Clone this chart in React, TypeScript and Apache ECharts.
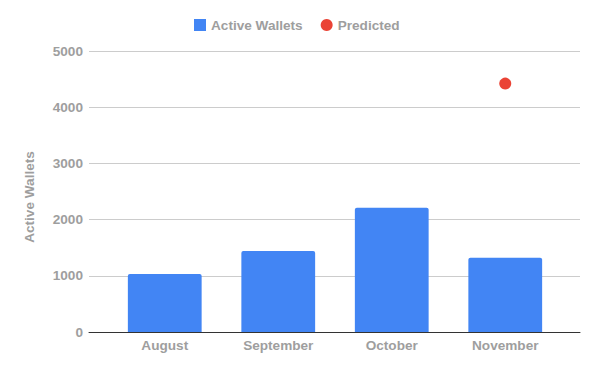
import React, { useEffect, useRef } from "react";
import * as echarts from "echarts";

const categories = ["August", "September", "October", "November"];
const activeWallets = [1030, 1440, 2210, 1320];
const predicted: (number | null)[] = [null, null, null, 4420];
const yTicks = { min: 0, max: 5000, interval: 1000 };
const yTitle = "Active Wallets";

const GRAY = "#9e9e9e";
const FONT = "Liberation Sans";
const FS = 13.6;

export default function App() {
  const ref = useRef<HTMLDivElement>(null);
  useEffect(() => {
    if (!ref.current) return;
    const chart = echarts.init(ref.current, undefined, { renderer: "svg" });
    chart.setOption({
      animation: false,
      textStyle: { fontFamily: FONT },
      legend: {
        top: 18,
        left: 194,
        padding: 0,
        itemWidth: 12,
        itemHeight: 12,
        itemGap: 18,
        textStyle: { color: GRAY, fontWeight: "bold", fontSize: FS, fontFamily: FONT },
        data: [
          { name: "Active Wallets", icon: "rect" },
          { name: "Predicted", icon: "circle" },
        ],
      },
      graphic: [
        {
          type: "text",
          x: 29,
          y: 197,
          rotation: Math.PI / 2,
          style: {
            text: yTitle,
            fill: GRAY,
            font: `bold ${FS}px ${FONT}`,
            align: "center",
            verticalAlign: "middle",
          },
        },
      ],
      grid: [
        { left: 89, right: 20, top: 51, bottom: 39 },
        { left: 108, right: 38, top: 51, bottom: 39 },
      ],
      xAxis: [
        {
          type: "value",
          gridIndex: 0,
          min: 0,
          max: 1,
          axisLine: { show: true, lineStyle: { color: "#333", width: 1 } },
          axisTick: { show: false },
          axisLabel: { show: false },
          splitLine: { show: false },
        },
        {
          type: "category",
          gridIndex: 1,
          data: categories,
          axisLine: { show: false },
          axisTick: { show: false },
          axisLabel: { color: GRAY, fontWeight: "bold", fontSize: FS, margin: 6, fontFamily: FONT },
        },
      ],
      yAxis: [
        {
          type: "value",
          gridIndex: 0,
          min: yTicks.min,
          max: yTicks.max,
          interval: yTicks.interval,
          axisLine: { show: false },
          axisTick: { show: false },
          axisLabel: {
            color: GRAY,
            fontWeight: "bold",
            fontSize: FS,
            margin: 6,
            fontFamily: FONT,
            formatter: (v: number) => String(v),
          },
          splitLine: { lineStyle: { color: "#cccccc", width: 1 } },
        },
        {
          type: "value",
          gridIndex: 1,
          min: yTicks.min,
          max: yTicks.max,
          interval: yTicks.interval,
          show: false,
          splitLine: { show: false },
        },
      ],
      series: [
        {
          name: "Active Wallets",
          type: "bar",
          xAxisIndex: 1,
          yAxisIndex: 1,
          data: activeWallets,
          barWidth: "65%",
          itemStyle: { color: "#4285f4", borderRadius: [2, 2, 0, 0] },
        },
        {
          name: "Predicted",
          type: "scatter",
          xAxisIndex: 1,
          yAxisIndex: 1,
          data: predicted,
          symbol: "circle",
          symbolSize: 12,
          itemStyle: { color: "#ea4335", opacity: 1 },
        },
      ],
    });
    return () => chart.dispose();
  }, []);
  return <div ref={ref} style={{ width: 600, height: 371, margin: -8 }} />;
}
